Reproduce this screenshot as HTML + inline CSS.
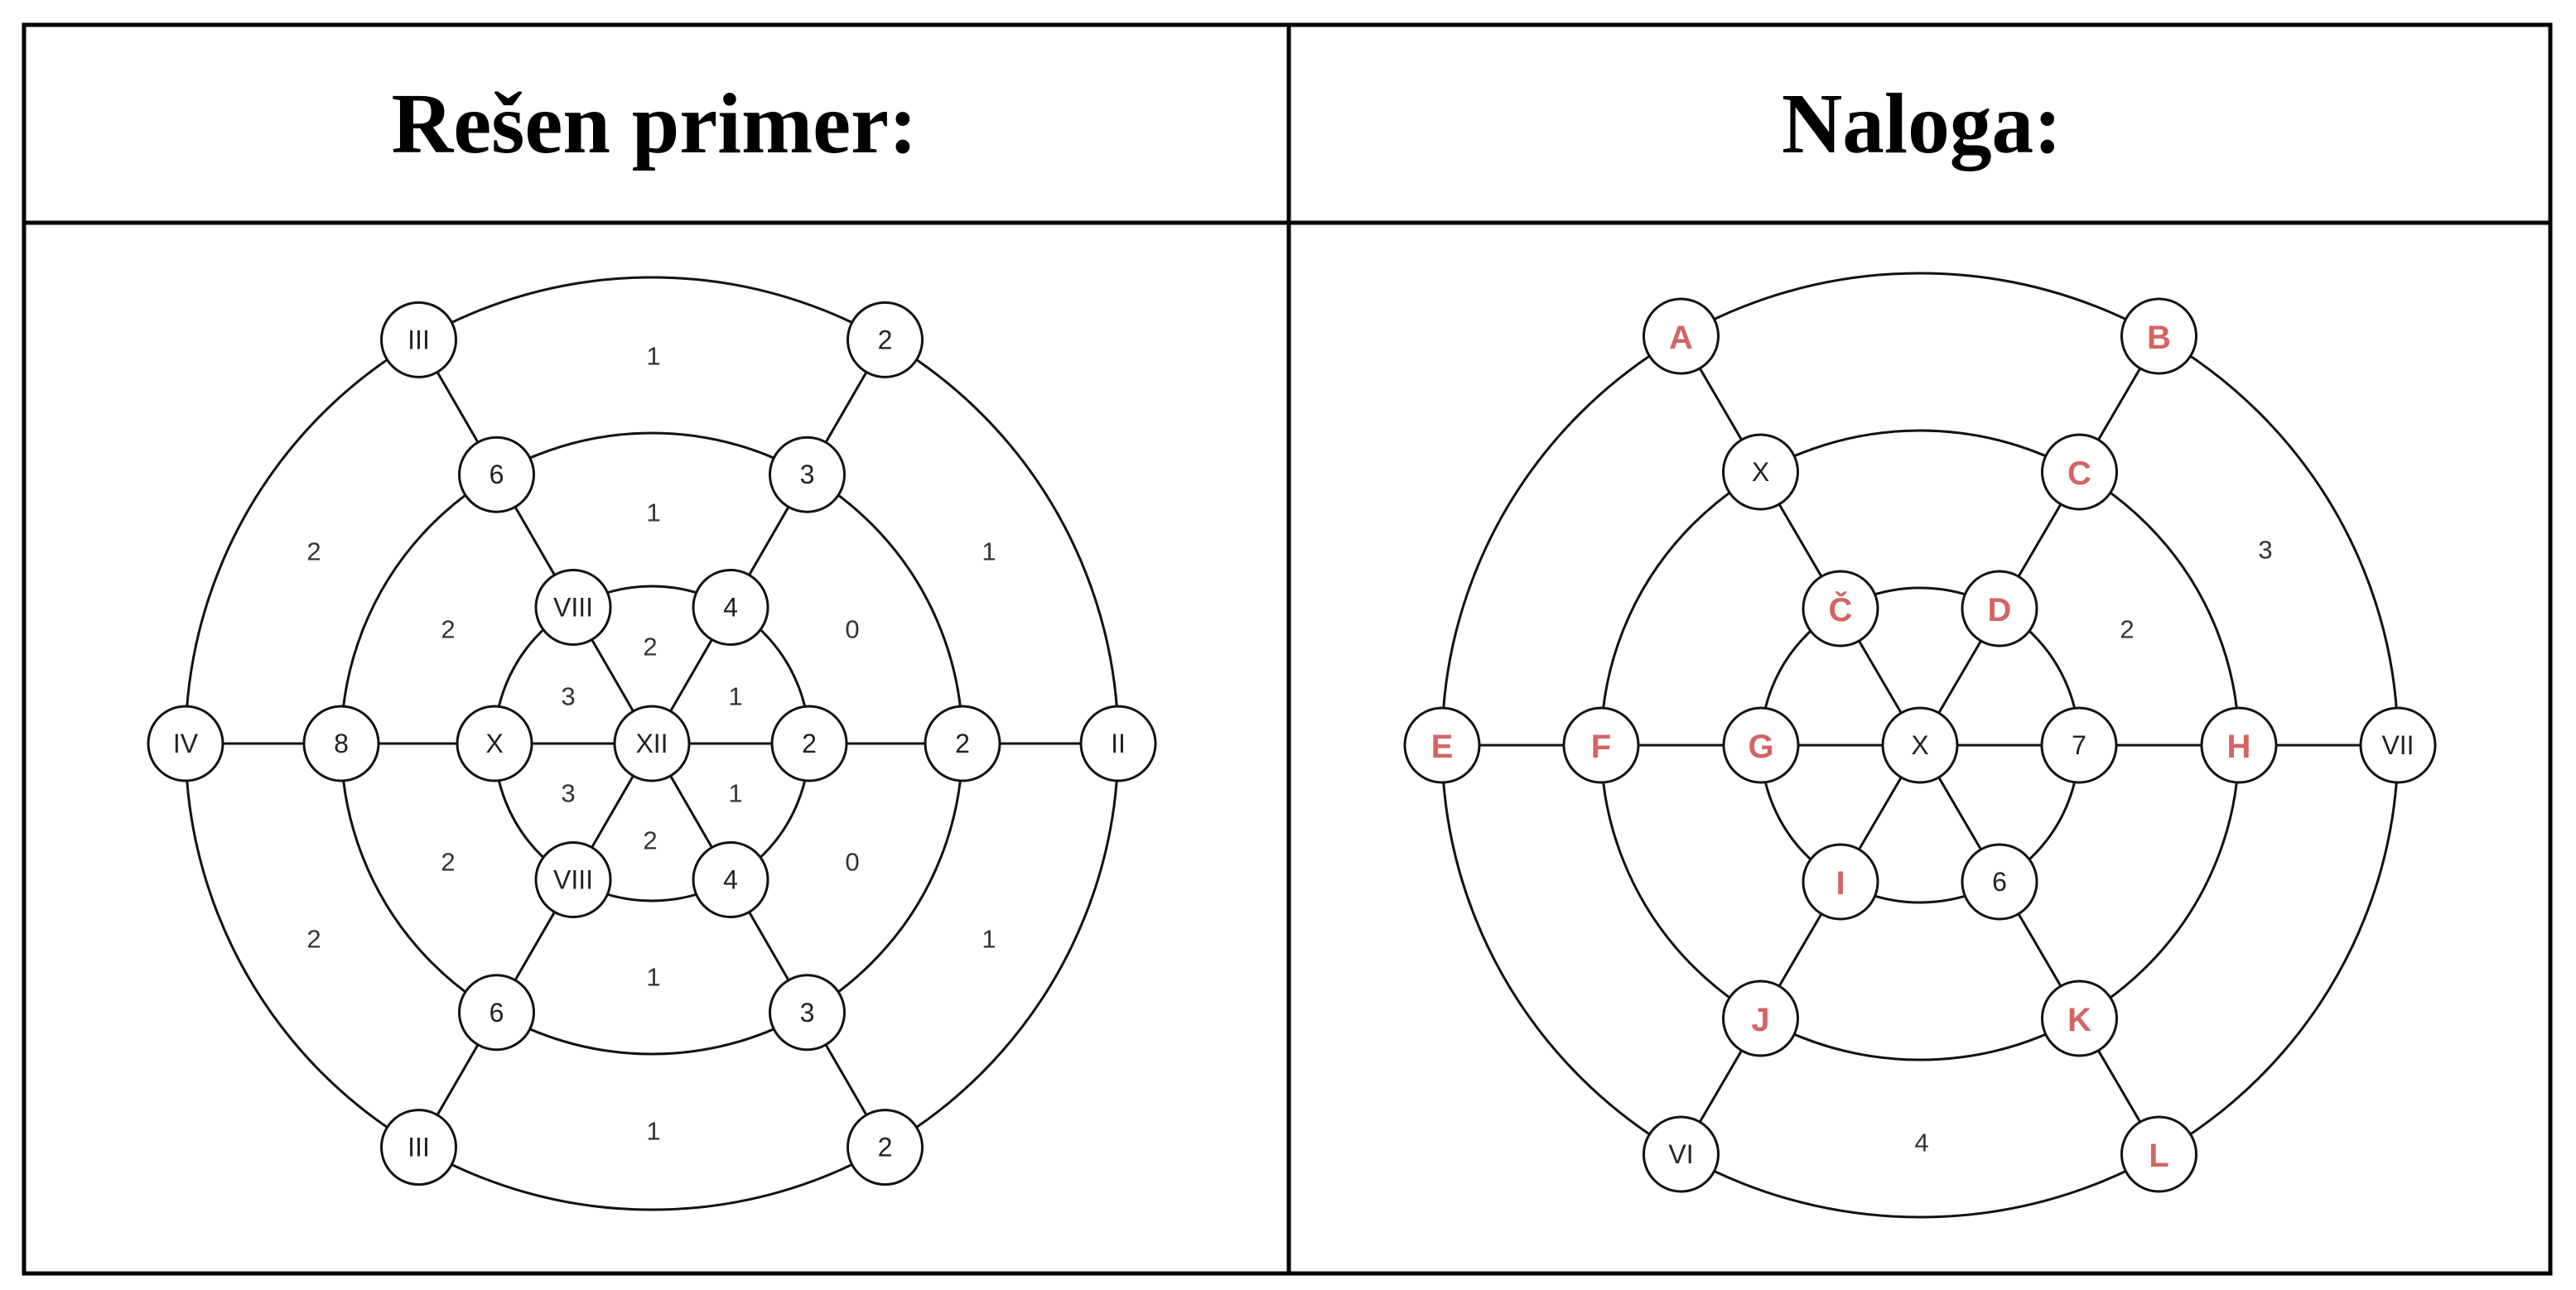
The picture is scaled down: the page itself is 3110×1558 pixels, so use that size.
<!DOCTYPE html>
<html><head><meta charset="utf-8"><style>
html,body{margin:0;padding:0;background:#fff;}
svg{display:block}
.n{fill:#fff;stroke:#111;stroke-width:3}
.t{font-family:"Liberation Sans",sans-serif;font-size:32px;fill:#222;text-anchor:middle;dominant-baseline:central}
.r{font-family:"Liberation Sans",sans-serif;font-size:40px;font-weight:bold;fill:#d46464;text-anchor:middle;dominant-baseline:central}
.l{font-family:"Liberation Sans",sans-serif;font-size:31px;fill:#333;text-anchor:middle;dominant-baseline:central}
.h{font-family:"Liberation Serif",serif;font-size:104px;font-weight:bold;fill:#000;text-anchor:middle}
</style></head><body>
<svg width="3110" height="1558" viewBox="0 0 3110 1558" xmlns="http://www.w3.org/2000/svg">
<rect x="0" y="0" width="3110" height="1558" fill="#fff"/>
<rect x="29" y="30" width="3050" height="1508" fill="none" stroke="#000" stroke-width="5"/>
<line x1="29" y1="269" x2="3079" y2="269" stroke="#000" stroke-width="5"/>
<line x1="1556" y1="30" x2="1556" y2="1538" stroke="#000" stroke-width="5"/>
<text class="h" x="790" y="184" textLength="635" lengthAdjust="spacingAndGlyphs">Rešen primer:</text>
<text class="h" x="2320" y="184" textLength="338" lengthAdjust="spacingAndGlyphs">Naloga:</text>

<!-- LEFT -->
<g fill="none" stroke="#111" stroke-width="3">
<circle cx="787" cy="898" r="190"/><circle cx="787" cy="898" r="375"/><circle cx="787" cy="898" r="563"/>
<line x1="224" y1="898" x2="1350" y2="898"/>
<line x1="505.5" y1="410.4" x2="1068.5" y2="1385.6"/>
<line x1="1068.5" y1="410.4" x2="505.5" y2="1385.6"/>
</g>
<g class="n">
<circle cx="787" cy="898" r="45"/>
<circle cx="692" cy="733.5" r="45"/><circle cx="882" cy="733.5" r="45"/><circle cx="597" cy="898" r="45"/><circle cx="977" cy="898" r="45"/><circle cx="692" cy="1062.5" r="45"/><circle cx="882" cy="1062.5" r="45"/>
<circle cx="599.5" cy="573.2" r="45"/><circle cx="974.5" cy="573.2" r="45"/><circle cx="412" cy="898" r="45"/><circle cx="1162" cy="898" r="45"/><circle cx="599.5" cy="1222.8" r="45"/><circle cx="974.5" cy="1222.8" r="45"/>
<circle cx="505.5" cy="410.4" r="45"/><circle cx="1068.5" cy="410.4" r="45"/><circle cx="224" cy="898" r="45"/><circle cx="1350" cy="898" r="45"/><circle cx="505.5" cy="1385.6" r="45"/><circle cx="1068.5" cy="1385.6" r="45"/>
</g>
<text class="t" x="787" y="898">XII</text>
<text class="t" x="692" y="733.5">VIII</text><text class="t" x="882" y="733.5">4</text><text class="t" x="597" y="898">X</text><text class="t" x="977" y="898">2</text><text class="t" x="692" y="1062.5">VIII</text><text class="t" x="882" y="1062.5">4</text>
<text class="t" x="599.5" y="573.2">6</text><text class="t" x="974.5" y="573.2">3</text><text class="t" x="412" y="898">8</text><text class="t" x="1162" y="898">2</text><text class="t" x="599.5" y="1222.8">6</text><text class="t" x="974.5" y="1222.8">3</text>
<text class="t" x="505.5" y="410.4">III</text><text class="t" x="1068.5" y="410.4">2</text><text class="t" x="224" y="898">IV</text><text class="t" x="1350" y="898">II</text><text class="t" x="505.5" y="1385.6">III</text><text class="t" x="1068.5" y="1385.6">2</text>
<g class="l">
<text x="789" y="430">1</text><text x="789" y="619">1</text><text x="785" y="781">2</text><text x="686" y="841">3</text><text x="888" y="841">1</text><text x="686" y="958">3</text><text x="888" y="958">1</text><text x="785" y="1015">2</text><text x="789" y="1180">1</text><text x="789" y="1366">1</text>
<text x="379" y="666">2</text><text x="541" y="760">2</text><text x="1029" y="760">0</text><text x="1194" y="666">1</text><text x="541" y="1041">2</text><text x="1029" y="1041">0</text><text x="379" y="1134">2</text><text x="1194" y="1134">1</text>
</g>

<!-- RIGHT (center 2318,900) -->
<g fill="none" stroke="#111" stroke-width="3">
<ellipse cx="2318" cy="900" rx="192" ry="190"/><ellipse cx="2318" cy="900" rx="385" ry="380"/><ellipse cx="2318" cy="900" rx="577" ry="570"/>
<line x1="1741" y1="900" x2="2895" y2="900"/>
<line x1="2029.5" y1="406" x2="2606.5" y2="1394"/>
<line x1="2606.5" y1="406" x2="2029.5" y2="1394"/>
</g>
<g class="n">
<circle cx="2318" cy="900" r="45"/>
<circle cx="2222" cy="735" r="45"/><circle cx="2414" cy="735" r="45"/><circle cx="2126" cy="900" r="45"/><circle cx="2510" cy="900" r="45"/><circle cx="2222" cy="1065" r="45"/><circle cx="2414" cy="1065" r="45"/>
<circle cx="2125.5" cy="570" r="45"/><circle cx="2510.5" cy="570" r="45"/><circle cx="1933" cy="900" r="45"/><circle cx="2703" cy="900" r="45"/><circle cx="2125.5" cy="1230" r="45"/><circle cx="2510.5" cy="1230" r="45"/>
<circle cx="2029.5" cy="406" r="45"/><circle cx="2606.5" cy="406" r="45"/><circle cx="1741" cy="900" r="45"/><circle cx="2895" cy="900" r="45"/><circle cx="2029.5" cy="1394" r="45"/><circle cx="2606.5" cy="1394" r="45"/>
</g>
<text class="t" x="2318" y="900">X</text>
<text class="r" x="2222" y="737">Č</text><text class="r" x="2414" y="737">D</text><text class="r" x="2126" y="902">G</text><text class="t" x="2510" y="900">7</text><text class="r" x="2222" y="1067">I</text><text class="t" x="2414" y="1065">6</text>
<text class="t" x="2125.5" y="570">X</text><text class="r" x="2510.5" y="572">C</text><text class="r" x="1933" y="902">F</text><text class="r" x="2703" y="902">H</text><text class="r" x="2125.5" y="1232">J</text><text class="r" x="2510.5" y="1232">K</text>
<text class="r" x="2029.5" y="408">A</text><text class="r" x="2606.5" y="408">B</text><text class="r" x="1741" y="902">E</text><text class="t" x="2895" y="900">VII</text><text class="t" x="2029.5" y="1394">VI</text><text class="r" x="2606.5" y="1396">L</text>
<g class="l">
<text x="2735" y="664">3</text><text x="2568" y="760">2</text><text x="2320" y="1380">4</text>
</g>
</svg>
</body></html>
